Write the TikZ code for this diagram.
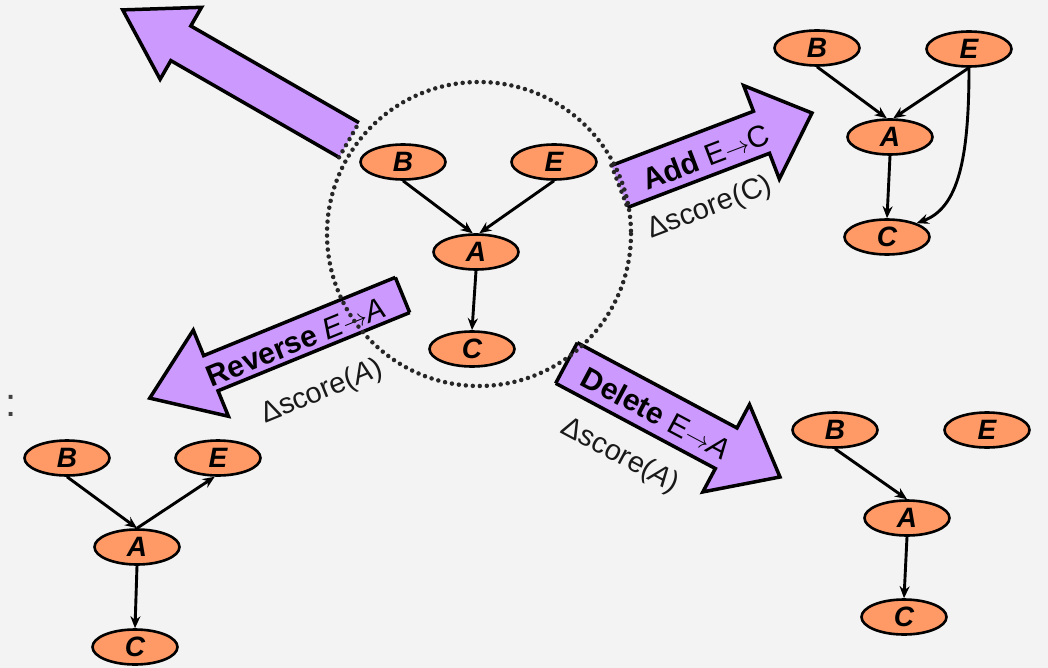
\documentclass[tikz,border=0pt]{standalone}
\usepackage{fontspec}
\setmainfont{Liberation Sans}
\usetikzlibrary{shapes.geometric,arrows.meta}
\definecolor{bg}{HTML}{F3F3F3}
\definecolor{nodeor}{HTML}{FF9966}
\definecolor{arrpurple}{HTML}{CC99FF}
\tikzset{
  bn/.style={ellipse, draw=black, line width=2.6pt, fill=nodeor, minimum width=85pt, minimum height=35pt, inner sep=0pt,
    font=\fontsize{28}{28}\selectfont\bfseries\itshape},
  edge/.style={line width=2.9pt, -{Stealth[length=12pt,width=10pt]}},
  arrline/.style={line width=3.5pt, black, line join=miter},
  dotline/.style={line width=4.5pt, black!85, dash pattern=on 0pt off 7pt, line cap=round},
  arrtxt/.style={inner sep=0pt, font=\fontsize{30}{30}\selectfont},
  scoretxt/.style={inner sep=0pt, font=\fontsize{29}{29}\selectfont, text=black!90},
}
\newcommand\blockarrow[8]{%
  \begin{scope}[shift={(#1,#2)},rotate=#3]
    \fill[arrpurple] (0,{-#5/2}) -- ({#4-#7},{-#5/2}) -- ({#4-#7},{-#6/2}) -- (#4,0) -- ({#4-#7},{#6/2}) -- ({#4-#7},{#5/2}) -- (0,{#5/2}) -- cycle;
    \draw[arrline] (0,{-#5/2}) -- ({#4-#7},{-#5/2}) -- ({#4-#7},{-#6/2}) -- (#4,0) -- ({#4-#7},{#6/2}) -- ({#4-#7},{#5/2}) -- (0,{#5/2});
    \draw[#8] (0,{-#5/2}) -- (0,{#5/2});
  \end{scope}}
\begin{document}
\begin{tikzpicture}[x=1pt,y=-1pt]
\fill[bg] (0,0) rectangle (1048,668);
\useasboundingbox (0,0) rectangle (1048,668);

% colon at left edge
\node[inner sep=0pt, anchor=base, text=black!75, font=\fontsize{40}{40}\selectfont] (colon) at (11.5,416) {:};

% block arrows
\blockarrow{349}{140}{150.1}{261}{40}{83}{67}{dotline}
\blockarrow{619.5}{186.5}{20.9}{206}{45}{100}{54}{dotline}
\blockarrow{402.5}{295}{-157.8}{273}{38}{93}{66}{arrline}
\blockarrow{566.5}{363}{-28.1}{242}{46}{99}{61}{arrline}

% arrow texts
\node[arrtxt, rotate=20.9] (addt) at (706,157) {\textbf{Add} E$\rightarrow$C};
\node[scoretxt, rotate=20.9] (adds) at (710,208) {Δscore(C)};
\node[arrtxt, rotate=22.2] (revt) at (296,342) {\textbf{Reverse} \textit{E}$\rightarrow$\textit{A}};
\node[scoretxt, rotate=22.2] (revs) at (322,392) {Δscore(\textit{A})};
\node[arrtxt, rotate=-28.1] (delt) at (656,413) {\textbf{Delete} E$\rightarrow$\textit{A}};
\node[scoretxt, rotate=-28.1] (dels) at (620,456) {Δscore(\textit{A})};

% dotted circle
\draw[dotline] (479,234) circle[radius=152];

% center graph
\node[bn] (cB) at (403,162) {B};
\node[bn] (cE) at (554,162) {E};
\node[bn] (cA) at (476,252) {A};
\node[bn] (cC) at (472,349) {C};
\draw[edge] (cB.south) -- (cA.100);
\draw[edge] (cE.south) -- (cA.80);
\draw[edge] (cA.south) -- (cC.north);

% top-right graph (add)
\node[bn] (aB) at (817,48) {B};
\node[bn] (aE) at (969,49) {E};
\node[bn] (aA) at (890,137) {A};
\node[bn] (aC) at (887,237) {C};
\draw[edge] (aB.south) -- (aA.100);
\draw[edge] (aE.south) -- (aA.80);
\draw[edge] (aA.south) -- (aC.north);
\draw[edge] (aE.south) .. controls (969,160) and (958,208) .. (aC.25);

% bottom-left graph (reverse)
\node[bn] (rB) at (67,458) {B};
\node[bn] (rE) at (218,458) {E};
\node[bn] (rA) at (137,547) {A};
\node[bn] (rC) at (135,647) {C};
\draw[edge] (rB.south) -- (rA.north);
\draw[edge] (rA.north) -- (rE.260);
\draw[edge] (rA.south) -- (rC.north);

% bottom-right graph (delete)
\node[bn] (dB) at (835,430) {B};
\node[bn] (dE) at (987,430) {E};
\node[bn] (dA) at (907,518) {A};
\node[bn] (dC) at (904,617) {C};
\draw[edge] (dB.south) -- (dA.north);
\draw[edge] (dA.south) -- (dC.north);
\end{tikzpicture}
\end{document}
